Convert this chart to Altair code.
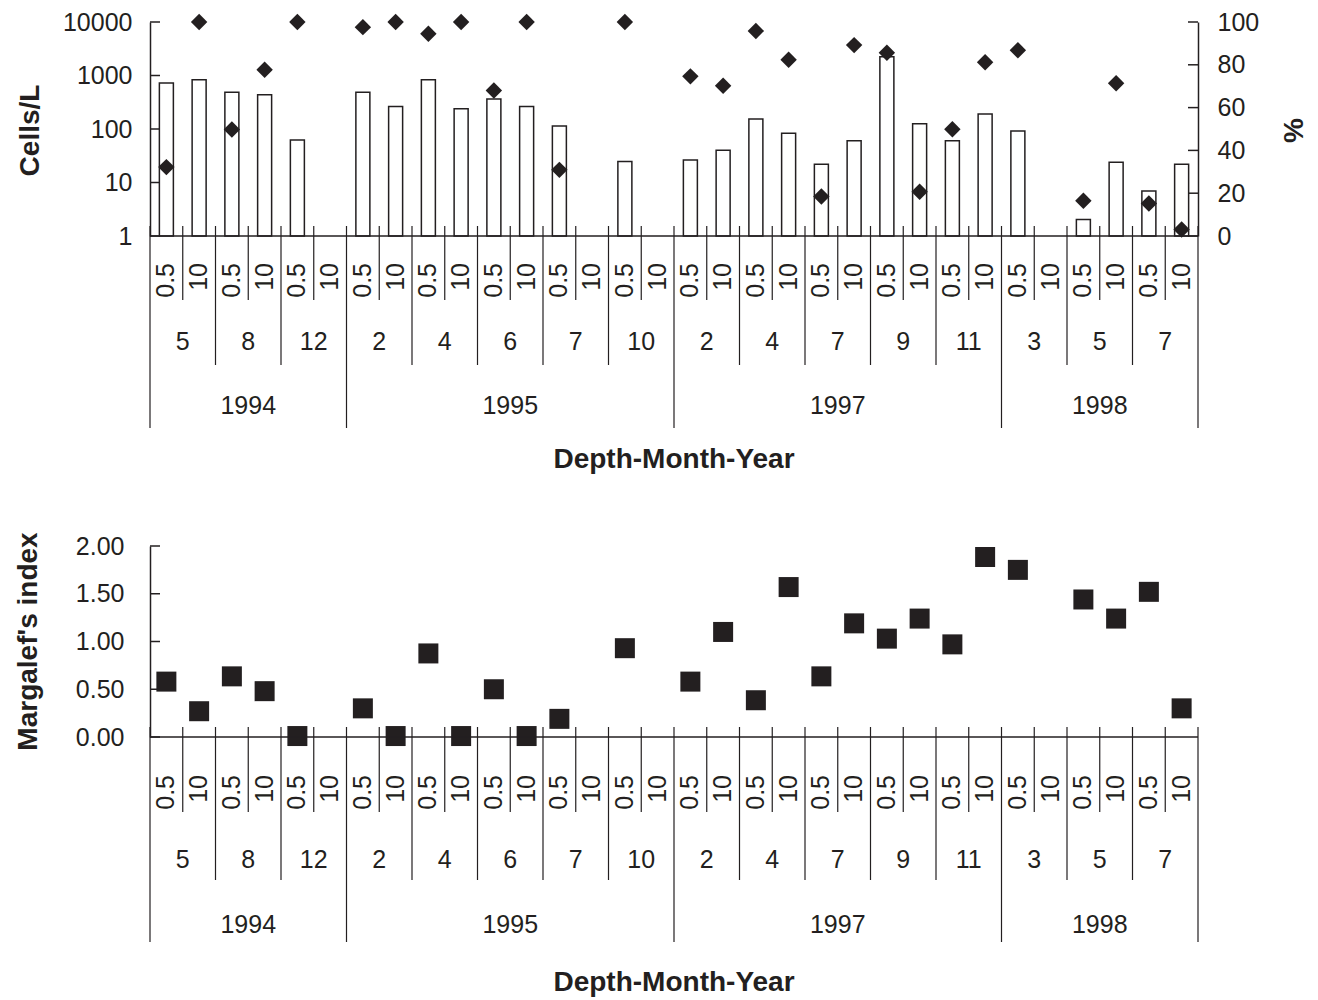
import altair as alt
import pandas as pd

INK = "#231f20"
FONT = "Liberation Sans"

# ---------------- data ----------------
depths = ["0.5", "10"] * 16
months = ["5", "8", "12", "2", "4", "6", "7", "10", "2", "4", "7", "9", "11", "3", "5", "7"]
years = ["1994", "1995", "1997", "1998"]
months_per_year = [3, 5, 5, 3]

cells = [725, 830, 485, 437, 62, None, 485, 264, 830, 239, 363, 264, 114, None, 24.8, None,
         26.4, 40, 154, 83, 21.9, 60, 2240, 126, 60, 190, 92, None, 2.03, 23.8, 6.9, 21.9]
pct = [32.2, 100, 49.8, 77.7, 100, None, 97.6, 100, 94.5, 100, 68, 100, 30.9, None, 100, None,
       74.6, 70.2, 95.8, 82.4, 18.5, 89.2, 85.6, 20.7, 49.9, 81.2, 86.8, None, 16.5, 71.4, 15.2, 3.0]
margalef = [0.58, 0.27, 0.635, 0.48, 0.01, None, 0.30, 0.01, 0.875, 0.01, 0.50, 0.01, 0.19, None, 0.93, None,
            0.58, 1.10, 0.385, 1.57, 0.635, 1.19, 1.03, 1.24, 0.97, 1.885, 1.75, None, 1.44, 1.24, 1.52, 0.30]

cells_ticks = [1, 10, 100, 1000, 10000]
pct_ticks = [0, 20, 40, 60, 80, 100]
marg_ticks = [0, 0.5, 1.0, 1.5, 2.0]

# ---------------- tables ----------------
n = len(depths)
slots = pd.DataFrame({
    "idx": list(range(n)),
    "center": [i + 0.5 for i in range(n)],
    "depth": depths,
    "cells": cells,
    "pct": pct,
    "marg": margalef,
})
slots["base"] = 1

month_df = pd.DataFrame({
    "label": months,
    "center": [2 * i + 1 for i in range(len(months))],
})

year_start = []
s = 0
for m in months_per_year:
    year_start.append(s)
    s += 2 * m
year_end = year_start[1:] + [s]
year_df = pd.DataFrame({
    "label": years,
    "center": [(a + b) / 2 for a, b in zip(year_start, year_end)],
})

bounds = list(range(n + 1))
year_b = set(year_start + [s])
month_b = set(range(0, n + 1, 2)) - year_b
bdf = pd.DataFrame({"pos": bounds})
bdf["level"] = ["year" if b in year_b else ("month" if b in month_b else "depth") for b in bounds]

W = 1048
xs = alt.Scale(domain=[0, n], nice=False, zero=False, padding=0)


def X(field):
    return alt.X(field, type="quantitative", scale=xs, axis=None)


def left_axis(title, values, fmt, pad, tx, ty):
    return alt.Axis(orient="left", values=values, format=fmt, title=title, grid=False,
                    ticks=False, domain=True, domainColor=INK, domainWidth=1.5,
                    labelPadding=pad, labelFont=FONT, labelFontSize=25, labelColor=INK,
                    labelFlush=False, labelOverlap=False, labelBound=False,
                    titleFont=FONT, titleFontSize=28, titleFontWeight="bold", titleColor=INK,
                    titleAngle=270, titleX=tx, titleY=ty, titleAlign="center", titleBaseline="middle")


# top panel, cells (log)
cells_scale = alt.Scale(type="log", domain=[1, 10000], range=[236, 22], nice=False)
cells_axis = left_axis("Cells/L", cells_ticks, "d", 18, -120, 130)

bars = alt.Chart(slots[slots["cells"].notna()]).mark_bar(
    size=14, fill="white", stroke=INK, strokeWidth=1.5
).encode(
    x=X("center"),
    y=alt.Y("cells:Q", scale=cells_scale, axis=cells_axis),
    y2="base:Q",
)
cells_tick_rules = alt.Chart(pd.DataFrame({"cells": cells_ticks})).mark_rule(
    stroke=INK, strokeWidth=1.5
).encode(
    x=alt.value(0), x2=alt.value(10),
    y=alt.Y("cells:Q", scale=cells_scale, axis=cells_axis),
)
top_left = alt.layer(bars, cells_tick_rules)

# top panel, percent (right axis)
pct_scale = alt.Scale(domain=[0, 100], range=[236, 22], nice=False, zero=False)
pct_axis = alt.Axis(orient="right", values=pct_ticks, title="%", grid=False, ticks=False,
                    domain=True, domainColor=INK, domainWidth=1.5, labelPadding=19,
                    labelFont=FONT, labelFontSize=25, labelColor=INK, labelFlush=False,
                    labelOverlap=False, labelBound=False,
                    titleFont=FONT, titleFontSize=28, titleFontWeight="bold", titleColor=INK,
                    titleAngle=270, titleX=96, titleY=130, titleAlign="center", titleBaseline="middle")
diamond = "M0,-1L1,0L0,1L-1,0Z"
diamonds = alt.Chart(slots[slots["pct"].notna()]).mark_point(
    shape=diamond, filled=True, size=270, color=INK, opacity=1
).encode(
    x=X("center"),
    y=alt.Y("pct:Q", scale=pct_scale, axis=pct_axis),
)
pct_tick_rules = alt.Chart(pd.DataFrame({"pct": pct_ticks})).mark_rule(
    stroke=INK, strokeWidth=1.5
).encode(
    x=alt.value(W - 10), x2=alt.value(W),
    y=alt.Y("pct:Q", scale=pct_scale, axis=pct_axis),
)
top_right = alt.layer(diamonds, pct_tick_rules)

# bottom panel, Margalef
marg_scale = alt.Scale(domain=[0, 2], range=[737, 546], nice=False, zero=False)
marg_axis = left_axis("Margalef's index", marg_ticks, ".2f", 26, -122, 641)
squares = alt.Chart(slots[slots["marg"].notna()]).mark_point(
    shape="square", filled=True, size=400, color=INK, opacity=1
).encode(
    x=X("center"),
    y=alt.Y("marg:Q", scale=marg_scale, axis=marg_axis),
)
marg_tick_rules = alt.Chart(pd.DataFrame({"marg": marg_ticks})).mark_rule(
    stroke=INK, strokeWidth=1.5
).encode(
    x=alt.value(0), x2=alt.value(10),
    y=alt.Y("marg:Q", scale=marg_scale, axis=marg_axis),
)
bottom = alt.layer(squares, marg_tick_rules)


# ---------------- hierarchical category axes ----------------
def cat_axis(axis_y, depth_y, depth_end, month_end, year_end, month_y, year_y, title_y):
    layers = []
    layers.append(alt.Chart(pd.DataFrame({"a": [0], "b": [n]})).mark_rule(
        stroke=INK, strokeWidth=1.5).encode(x=X("a"), x2="b:Q", y=alt.value(axis_y)))
    for lvl, yend in (("depth", depth_end), ("month", month_end), ("year", year_end)):
        layers.append(alt.Chart(bdf[bdf["level"] == lvl]).mark_rule(
            stroke=INK, strokeWidth=1.2).encode(
            x=X("pos"), y=alt.value(axis_y - 10), y2=alt.value(yend)))
    layers.append(alt.Chart(slots).mark_text(
        angle=270, align="right", baseline="middle", font=FONT, fontSize=25, color=INK
    ).encode(x=X("center"), y=alt.value(depth_y), text="depth:N"))
    layers.append(alt.Chart(month_df).mark_text(
        align="center", baseline="middle", font=FONT, fontSize=25, color=INK
    ).encode(x=X("center"), y=alt.value(month_y), text="label:N"))
    layers.append(alt.Chart(year_df).mark_text(
        align="center", baseline="middle", font=FONT, fontSize=25, color=INK
    ).encode(x=X("center"), y=alt.value(year_y), text="label:N"))
    layers.append(alt.Chart(pd.DataFrame({"c": [n / 2], "t": ["Depth-Month-Year"]})).mark_text(
        align="center", baseline="middle", font=FONT, fontSize=28, fontWeight="bold", color=INK
    ).encode(x=X("c"), y=alt.value(title_y), text="t:N"))
    return layers


top_cat = cat_axis(236, 263, 300, 365, 428, 342, 406, 460)
bot_cat = cat_axis(737, 775, 812, 880, 942, 860, 925, 983)

chart = alt.layer(top_left, top_right, bottom, *top_cat, *bot_cat).resolve_scale(
    y="independent"
).properties(
    width=W, height=1000,
    background="white",
    autosize=alt.AutoSizeParams(type="none"),
    padding={"left": 150, "top": 0, "right": 120, "bottom": 0},
).configure_view(stroke=None)

chart.save("out.html", embed_options={"renderer": "svg", "actions": False})
